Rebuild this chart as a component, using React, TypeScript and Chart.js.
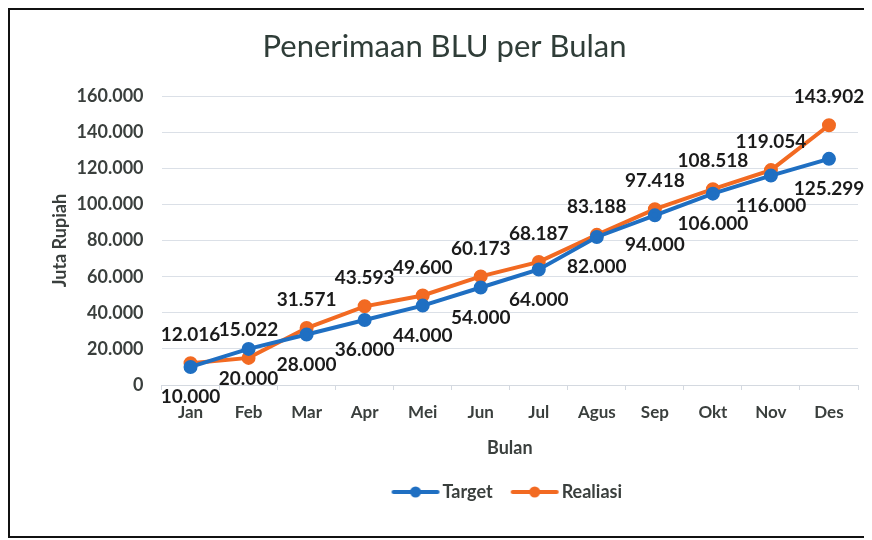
import React, { useEffect, useRef } from 'react';
import { Chart, registerables } from 'chart.js';

Chart.register(...registerables);

const months = ['Jan', 'Feb', 'Mar', 'Apr', 'Mei', 'Jun', 'Jul', 'Agus', 'Sep', 'Okt', 'Nov', 'Des'];
const target = [10000, 20000, 28000, 36000, 44000, 54000, 64000, 82000, 94000, 106000, 116000, 125299];
const realisasi = [12016, 15022, 31571, 43593, 49600, 60173, 68187, 83188, 97418, 108518, 119054, 143902];
const seriesNames = ['Target', 'Realiasi'];
const yMin = 0;
const yMax = 160000;
const yStep = 20000;

const BLUE = '#1f6fc2';
const ORANGE = '#f26a22';
const FONT = 'Lato, "Open Sans", sans-serif';
const TEXT = '#3a3f3d';

function fmt(v: number): string {
  const s = Math.round(v).toString();
  return s.replace(/\B(?=(\d{3})+(?!\d))/g, '.');
}

function legendIcon(color: string): HTMLCanvasElement {
  const c = document.createElement('canvas');
  c.width = 50;
  c.height = 14;
  const ctx = c.getContext('2d')!;
  ctx.strokeStyle = color;
  ctx.lineWidth = 4;
  ctx.lineCap = 'round';
  ctx.beginPath();
  ctx.moveTo(3, 7);
  ctx.lineTo(47, 7);
  ctx.stroke();
  ctx.fillStyle = color;
  ctx.beginPath();
  ctx.arc(25, 7, 5.5, 0, Math.PI * 2);
  ctx.fill();
  return c;
}

const dataLabelPlugin = {
  id: 'dataLabels',
  afterDatasetsDraw(chart: any) {
    const ctx = chart.ctx;
    ctx.save();
    ctx.font = `bold 19px ${FONT}`;
    ctx.fillStyle = '#1b1b1b';
    ctx.textAlign = 'center';
    ctx.textBaseline = 'middle';
    chart.data.datasets.forEach((ds: any, di: number) => {
      const meta = chart.getDatasetMeta(di);
      meta.data.forEach((pt: any, i: number) => {
        const off = di === 0 ? 30 : -28;
        ctx.fillText(fmt(ds.data[i]), pt.x, pt.y + off);
      });
    });
    ctx.restore();
  },
};

export default function App() {
  const ref = useRef<HTMLCanvasElement>(null);

  useEffect(() => {
    if (!ref.current) return;
    const icons = [legendIcon(BLUE), legendIcon(ORANGE)];
    const chart = new Chart(ref.current, {
      type: 'line',
      data: {
        labels: months,
        datasets: [
          {
            label: seriesNames[0],
            data: target,
            borderColor: BLUE,
            backgroundColor: BLUE,
            borderWidth: 4,
            pointRadius: 5,
            pointBackgroundColor: BLUE,
            pointBorderColor: BLUE,
            tension: 0,
          },
          {
            label: seriesNames[1],
            data: realisasi,
            borderColor: ORANGE,
            backgroundColor: ORANGE,
            borderWidth: 4,
            pointRadius: 5,
            pointBackgroundColor: ORANGE,
            pointBorderColor: ORANGE,
            tension: 0,
          },
        ],
      },
      options: {
        animation: false,
        responsive: true,
        maintainAspectRatio: false,
        layout: { padding: { left: 21, right: 14, top: 0, bottom: 25 } },
        plugins: {
          title: {
            display: true,
            text: 'Penerimaan BLU per Bulan',
            color: '#2f3d38',
            font: { family: FONT, size: 31, weight: 'normal' },
            padding: { top: 18, bottom: 31 },
          },
          legend: {
            display: true,
            position: 'bottom',
            fullSize: false,
            labels: {
              usePointStyle: true,
              pointStyleWidth: 36,
              color: TEXT,
              font: { family: FONT, size: 18, weight: 'bold' },
              padding: 24,
              generateLabels: (c: any) => {
                const items = Chart.defaults.plugins.legend.labels.generateLabels(c);
                items.forEach((it: any, i: number) => {
                  it.pointStyle = icons[i];
                });
                return items;
              },
            },
          },
          tooltip: { enabled: false },
        },
        scales: {
          x: {
            offset: true,
            grid: {
              display: true,
              drawOnChartArea: false,
              drawTicks: true,
              tickLength: 5,
              color: '#d4d9e0',
              offset: true,
            },
            border: { display: true, color: '#d4d9e0' },
            ticks: {
              color: TEXT,
              font: { family: FONT, size: 17, weight: 'bold' },
              padding: 12,
              maxRotation: 0,
            },
            title: {
              display: true,
              text: 'Bulan',
              color: TEXT,
              font: { family: FONT, size: 18, weight: 'bold' },
              padding: { top: 3, bottom: 0 },
            },
          },
          y: {
            min: yMin,
            max: yMax,
            grid: { color: '#dbe0e7', drawTicks: true, tickLength: 12, tickColor: 'transparent' },
            border: { display: false },
            ticks: {
              stepSize: yStep,
              color: TEXT,
              font: { family: FONT, size: 18, weight: 'bold' },
              padding: 6,
              callback: (v: any) => fmt(Number(v)),
            },
            title: {
              display: true,
              text: 'Juta Rupiah',
              color: TEXT,
              font: { family: FONT, size: 18, weight: 'bold' },
              padding: { top: 18, bottom: 0 },
            },
          },
        },
      },
      plugins: [dataLabelPlugin],
    });
    return () => chart.destroy();
  }, []);

  return (
    <div
      style={{
        borderLeft: '2px solid #111',
        borderTop: '2px solid #111',
        borderBottom: '2px solid #111',
        width: 862,
        height: 526,
        background: '#fff',
      }}
    >
      <div style={{ position: 'relative', width: 862, height: 526 }}>
        <canvas ref={ref} />
      </div>
    </div>
  );
}
